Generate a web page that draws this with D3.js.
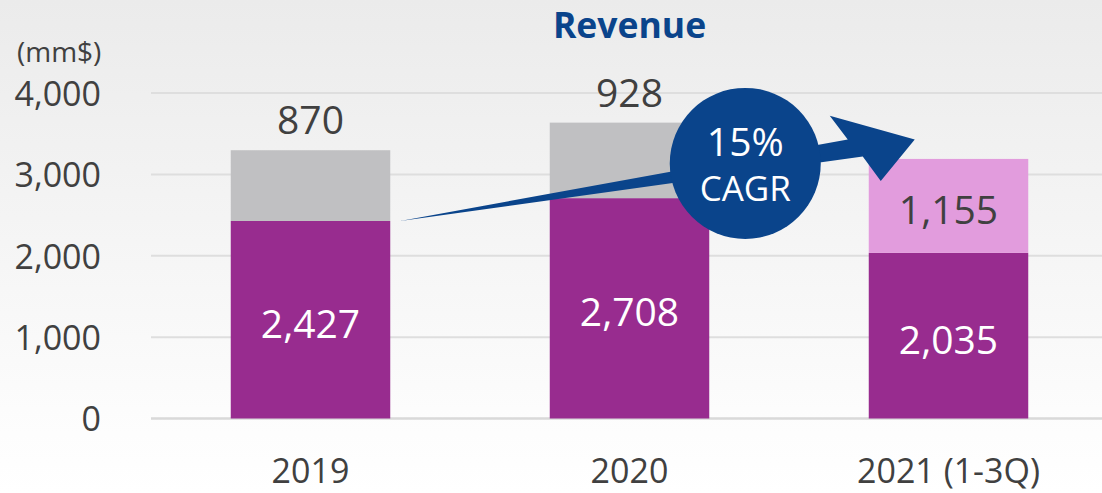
<!DOCTYPE html>
<html>
<head>
<meta charset="utf-8">
<script src="https://cdn.jsdelivr.net/npm/d3@7"></script>
<style>
  html, body { margin: 0; padding: 0; background: #fff; }
  svg { display: block; font-family: "Open Sans", "Noto Sans", sans-serif; }
</style>
</head>
<body>
<svg id="chart" width="1102" height="493"></svg>
<script>
// ---- data ----
const categories = ["2019", "2020", "2021 (1-3Q)"];
const baseValues = [2427, 2708, 2035];
const topValues = [870, 928, 1155];
const yTicks = [0, 1000, 2000, 3000, 4000];
const title = "Revenue";
const unitLabel = "(mm$)";
const cagrLines = ["15%", "CAGR"];

// ---- style ----
const baseColor = "#982c8f";
const topColors = ["#c0c0c2", "#c0c0c2", "#e29cdd"];
const topLabelInside = [false, false, true];
const navy = "#0a448b";
const textColor = "#404040";

const W = 1102, H = 493;
const svg = d3.select("#chart");

// background gradient
const defs = svg.append("defs");
const grad = defs.append("linearGradient").attr("id", "bg")
  .attr("x1", 0).attr("y1", 0).attr("x2", 0).attr("y2", 1);
grad.append("stop").attr("offset", "0%").attr("stop-color", "#ebebeb");
grad.append("stop").attr("offset", "88%").attr("stop-color", "#fdfdfd");
grad.append("stop").attr("offset", "100%").attr("stop-color", "#ffffff");
svg.append("rect").attr("width", W).attr("height", H).attr("fill", "url(#bg)");

const x = d3.scaleBand().domain(categories).range([151, 1108])
  .paddingInner(0.5).paddingOuter(0.25);
const y = d3.scaleLinear().domain([0, 4000]).range([418.5, 93]);

// gridlines
svg.append("g").selectAll("line").data(yTicks).join("line")
  .attr("x1", 151).attr("x2", W)
  .attr("y1", d => y(d)).attr("y2", d => y(d))
  .attr("stroke", d => d === 0 ? "#d9d9d9" : "#dedede")
  .attr("stroke-width", d => d === 0 ? 2.5 : 2);

// y axis labels
const yAxis = d3.axisLeft(y).tickValues(yTicks).tickFormat(d3.format(",")).tickSize(0).tickPadding(0);
const gy = svg.append("g").attr("transform", "translate(101,0)").call(yAxis);
gy.select(".domain").remove();
gy.selectAll("text").attr("font-size", 34).attr("fill", textColor)
  .attr("font-family", "'Open Sans', sans-serif").attr("dy", "0.36em");

// unit label
svg.append("text").attr("x", 17).attr("y", 62).attr("font-size", 28)
  .attr("fill", textColor).text(unitLabel);

// title
svg.append("text").attr("x", x(categories[1]) + x.bandwidth() / 2).attr("y", 38)
  .attr("text-anchor", "middle").attr("font-size", 35.5).attr("font-weight", "bold")
  .attr("fill", navy).text(title);

const rows = categories.map((c, i) => ({ c, i, base: baseValues[i], top: topValues[i] }));

// bars
svg.append("g").selectAll("rect").data(rows).join("rect")
  .attr("x", d => x(d.c)).attr("width", x.bandwidth())
  .attr("y", d => y(d.base)).attr("height", d => y(0) - y(d.base))
  .attr("fill", baseColor);
svg.append("g").selectAll("rect").data(rows).join("rect")
  .attr("x", d => x(d.c)).attr("width", x.bandwidth())
  .attr("y", d => y(d.base + d.top)).attr("height", d => y(d.base) - y(d.base + d.top))
  .attr("fill", d => topColors[d.i]);

const fmt = d3.format(",");
// base labels
svg.append("g").selectAll("text").data(rows).join("text")
  .attr("x", d => x(d.c) + x.bandwidth() / 2)
  .attr("y", d => (y(0) + y(d.base)) / 2 + 4)
  .attr("dy", "0.36em").attr("text-anchor", "middle").attr("font-size", 39)
  .attr("fill", "#ffffff").text(d => fmt(d.base));
// top labels
svg.append("g").selectAll("text").data(rows).join("text")
  .attr("x", d => x(d.c) + x.bandwidth() / 2)
  .attr("y", d => topLabelInside[d.i]
      ? (y(d.base) + y(d.base + d.top)) / 2 + 4
      : y(d.base + d.top) - 30)
  .attr("dy", "0.36em").attr("text-anchor", "middle").attr("font-size", 39)
  .attr("fill", textColor).text(d => fmt(d.top));

// x labels
svg.append("g").selectAll("text").data(categories).join("text")
  .attr("x", d => x(d) + x.bandwidth() / 2).attr("y", 483)
  .attr("text-anchor", "middle").attr("font-size", 34)
  .attr("fill", textColor).text(d => d);

// CAGR arrow (anchored to the scales)
const x0 = x(categories[0]) + x.bandwidth() + 10, y0 = y(baseValues[0]);
const bx = x(categories[2]);
const ax = bx - 39, ay = y(3720);
const tipX = bx + 46, tipY = y(3430);
const bxx = bx + 12, byy = y(2920);
const ux = bx - 21, uy = y(3430);
const lx = bx - 6, ly = y(3220);
const arrow = d3.path();
arrow.moveTo(x0, y0);
arrow.lineTo(ux, uy);
arrow.lineTo(ax, ay);
arrow.lineTo(tipX, tipY);
arrow.lineTo(bxx, byy);
arrow.lineTo(lx, ly);
arrow.closePath();
svg.append("path").attr("d", arrow.toString()).attr("fill", navy);

const cx = x(categories[1]) + x.bandwidth() + 36, cy = y(3135);
svg.append("circle").attr("cx", cx).attr("cy", cy).attr("r", 75.5).attr("fill", navy);
svg.append("text").attr("x", cx).attr("y", cy - 7).attr("text-anchor", "middle")
  .attr("font-size", 39).attr("fill", "#fff").text(cagrLines[0]);
svg.append("text").attr("x", cx).attr("y", cy + 38).attr("text-anchor", "middle")
  .attr("font-size", 35).attr("fill", "#fff").text(cagrLines[1]);
</script>
</body>
</html>
